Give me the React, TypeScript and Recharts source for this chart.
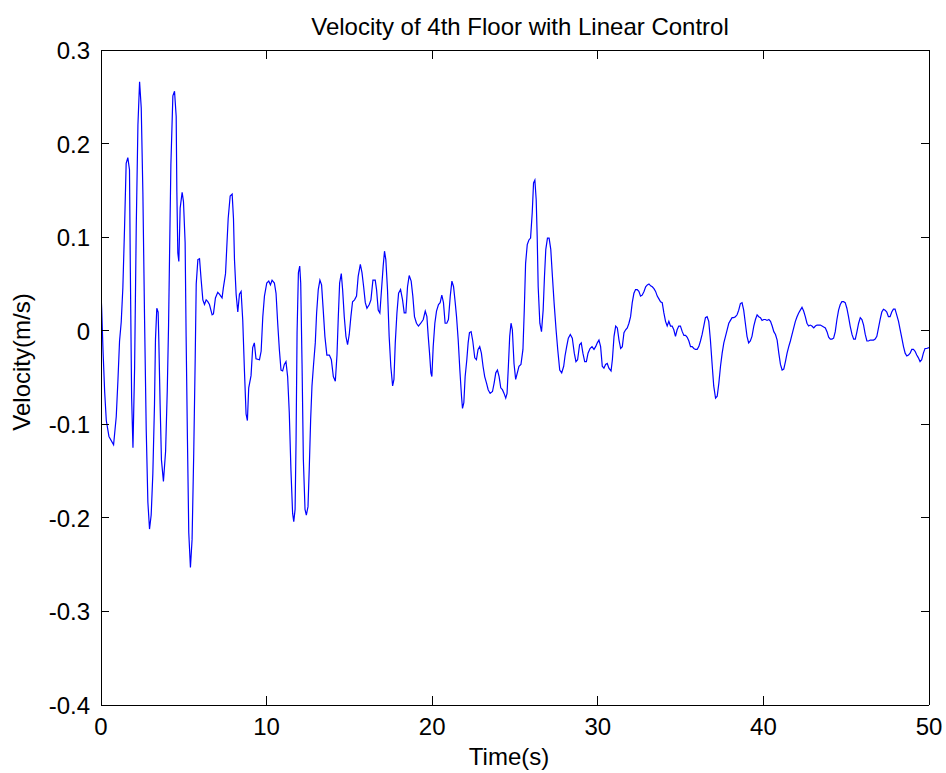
import { Line, LineChart, XAxis, YAxis } from "recharts";

// Velocity (m/s), one pair of arrays per 10 s stretch
const TIME_0_10 = [0, 0.04, 0.12, 0.22, 0.32, 0.48, 0.76, 0.92, 1.02, 1.12, 1.22, 1.32, 1.42, 1.52, 1.62, 1.72, 1.77, 1.85, 1.93, 2.03, 2.13, 2.23, 2.33, 2.43, 2.53, 2.63, 2.73, 2.83, 2.93, 3.03, 3.13, 3.23, 3.29, 3.37, 3.45, 3.49, 3.57, 3.65, 3.77, 3.9, 4.0, 4.08, 4.14, 4.22, 4.34, 4.44, 4.54, 4.58, 4.64, 4.7, 4.78, 4.9, 4.98, 5.08, 5.14, 5.22, 5.3, 5.4, 5.5, 5.6, 5.69, 5.75, 5.85, 5.95, 6.05, 6.15, 6.25, 6.35, 6.45, 6.55, 6.71, 6.79, 6.91, 7.05, 7.15, 7.31, 7.39, 7.52, 7.59, 7.68, 7.8, 7.92, 8.0, 8.06, 8.16, 8.26, 8.36, 8.46, 8.56, 8.66, 8.76, 8.84, 8.92, 9.06, 9.16, 9.26, 9.36];
const VEL_0_10 = [0.04, 0.024, -0.02, -0.065, -0.096, -0.113, -0.122, -0.092, -0.054, -0.011, 0.009, 0.046, 0.109, 0.179, 0.185, 0.172, 0.068, -0.072, -0.125, -0.039, 0.113, 0.22, 0.266, 0.238, 0.146, 0.013, -0.105, -0.183, -0.212, -0.197, -0.153, -0.079, -0.009, 0.024, 0.02, -0.009, -0.079, -0.138, -0.161, -0.129, -0.065, 0.006, 0.081, 0.177, 0.251, 0.256, 0.229, 0.149, 0.083, 0.074, 0.131, 0.148, 0.138, 0.094, -0.006, -0.116, -0.216, -0.253, -0.223, -0.131, -0.028, 0.05, 0.076, 0.077, 0.054, 0.033, 0.028, 0.033, 0.031, 0.028, 0.017, 0.018, 0.035, 0.041, 0.039, 0.035, 0.046, 0.061, 0.087, 0.12, 0.144, 0.146, 0.12, 0.076, 0.039, 0.02, 0.039, 0.042, 0.011, -0.042, -0.089, -0.096, -0.061, -0.048, -0.018, -0.013, -0.03];

const TIME_10_20 = [9.57, 9.67, 9.77, 9.87, 10.01, 10.13, 10.23, 10.33, 10.47, 10.57, 10.67, 10.77, 10.87, 10.97, 11.07, 11.17, 11.27, 11.37, 11.47, 11.57, 11.64, 11.72, 11.78, 11.84, 11.92, 12.0, 12.06, 12.14, 12.22, 12.32, 12.4, 12.5, 12.58, 12.66, 12.74, 12.84, 12.94, 13.02, 13.12, 13.22, 13.32, 13.42, 13.52, 13.64, 13.79, 13.91, 14.03, 14.15, 14.25, 14.33, 14.41, 14.51, 14.59, 14.69, 14.79, 14.89, 14.99, 15.09, 15.19, 15.31, 15.43, 15.53, 15.66, 15.76, 15.86, 15.96, 16.06, 16.2, 16.3, 16.42, 16.56, 16.64, 16.74, 16.84, 16.94, 17.04, 17.12, 17.2, 17.3, 17.4, 17.5, 17.61, 17.69, 17.77, 17.87, 17.97, 18.09, 18.21, 18.31, 18.41, 18.51, 18.61, 18.73, 18.83, 18.93, 19.05, 19.17, 19.31, 19.46, 19.58, 19.68, 19.76, 19.84];
const VEL_10_20 = [-0.031, -0.022, 0.015, 0.037, 0.051, 0.053, 0.049, 0.054, 0.051, 0.04, 0.008, -0.02, -0.042, -0.043, -0.036, -0.033, -0.049, -0.088, -0.149, -0.195, -0.204, -0.191, -0.116, -0.002, 0.062, 0.069, 0.051, -0.035, -0.138, -0.191, -0.197, -0.188, -0.145, -0.095, -0.059, -0.035, -0.013, 0.019, 0.044, 0.054, 0.049, 0.022, -0.006, -0.026, -0.026, -0.031, -0.049, -0.054, -0.026, 0.015, 0.051, 0.061, 0.044, 0.015, -0.006, -0.015, -0.004, 0.015, 0.031, 0.033, 0.037, 0.058, 0.071, 0.062, 0.047, 0.03, 0.024, 0.028, 0.033, 0.054, 0.054, 0.044, 0.022, 0.019, 0.044, 0.069, 0.085, 0.076, 0.044, -0.006, -0.038, -0.059, -0.052, -0.013, 0.019, 0.04, 0.044, 0.033, 0.019, 0.019, 0.047, 0.059, 0.053, 0.037, 0.015, 0.008, 0.005, 0.008, 0.012, 0.021, 0.015, -0.006, -0.024];

const TIME_20_30 = [19.92, 19.98, 20.06, 20.16, 20.26, 20.38, 20.48, 20.58, 20.68, 20.78, 20.88, 20.98, 21.09, 21.19, 21.29, 21.39, 21.47, 21.57, 21.67, 21.77, 21.83, 21.91, 21.99, 22.09, 22.17, 22.25, 22.35, 22.45, 22.57, 22.67, 22.77, 22.87, 22.97, 23.07, 23.17, 23.28, 23.38, 23.5, 23.64, 23.74, 23.84, 23.94, 24.04, 24.14, 24.24, 24.34, 24.44, 24.52, 24.6, 24.68, 24.76, 24.84, 24.94, 25.04, 25.14, 25.24, 25.36, 25.48, 25.56, 25.64, 25.74, 25.84, 25.94, 26.04, 26.12, 26.2, 26.28, 26.34, 26.4, 26.5, 26.6, 26.7, 26.78, 26.86, 26.96, 27.06, 27.16, 27.26, 27.36, 27.48, 27.58, 27.7, 27.82, 27.94, 28.02, 28.12, 28.22, 28.34, 28.46, 28.58, 28.68, 28.78, 28.9, 29.0, 29.1, 29.21, 29.31, 29.41, 29.53, 29.65, 29.77, 29.87, 29.97, 30.07];
const VEL_20_30 = [-0.045, -0.049, -0.017, 0.008, 0.021, 0.028, 0.03, 0.038, 0.03, 0.008, 0.008, 0.012, 0.037, 0.053, 0.047, 0.03, 0.015, -0.01, -0.042, -0.07, -0.083, -0.077, -0.049, -0.031, -0.013, -0.002, -0.001, -0.011, -0.029, -0.031, -0.02, -0.017, -0.024, -0.038, -0.049, -0.056, -0.063, -0.067, -0.065, -0.056, -0.045, -0.042, -0.049, -0.061, -0.063, -0.067, -0.072, -0.067, -0.038, -0.006, 0.008, 0.001, -0.035, -0.052, -0.045, -0.038, -0.036, -0.02, 0.022, 0.072, 0.092, 0.097, 0.099, 0.126, 0.158, 0.161, 0.14, 0.101, 0.047, 0.008, -0.001, 0.022, 0.058, 0.087, 0.099, 0.099, 0.087, 0.058, 0.03, 0.001, -0.02, -0.042, -0.045, -0.038, -0.027, -0.017, -0.008, -0.004, -0.008, -0.024, -0.033, -0.031, -0.015, -0.013, -0.024, -0.033, -0.033, -0.024, -0.019, -0.017, -0.02, -0.017, -0.013, -0.01];

const TIME_30_40 = [30.17, 30.27, 30.37, 30.47, 30.57, 30.67, 30.8, 30.88, 30.98, 31.08, 31.18, 31.28, 31.38, 31.48, 31.58, 31.68, 31.78, 31.88, 31.98, 32.08, 32.18, 32.28, 32.38, 32.48, 32.58, 32.68, 32.79, 32.89, 32.99, 33.09, 33.19, 33.29, 33.39, 33.49, 33.59, 33.69, 33.79, 33.89, 33.99, 34.09, 34.19, 34.29, 34.39, 34.49, 34.59, 34.69, 34.79, 34.89, 34.99, 35.1, 35.2, 35.3, 35.4, 35.5, 35.6, 35.7, 35.8, 35.9, 36.0, 36.1, 36.2, 36.3, 36.4, 36.5, 36.6, 36.7, 36.8, 36.9, 37.0, 37.11, 37.21, 37.31, 37.41, 37.51, 37.61, 37.71, 37.81, 37.91, 38.01, 38.11, 38.21, 38.31, 38.41, 38.51, 38.61, 38.71, 38.81, 38.91, 39.01, 39.11, 39.21, 39.31, 39.42, 39.52, 39.62, 39.72, 39.82, 39.92, 40.02, 40.12, 40.22];
const VEL_30_40 = [-0.017, -0.038, -0.04, -0.036, -0.035, -0.04, -0.043, -0.031, -0.006, 0.005, 0.003, -0.01, -0.019, -0.017, -0.002, 0.001, 0.003, 0.008, 0.015, 0.03, 0.04, 0.044, 0.044, 0.042, 0.037, 0.038, 0.042, 0.047, 0.049, 0.05, 0.048, 0.047, 0.045, 0.042, 0.037, 0.034, 0.031, 0.03, 0.019, 0.01, 0.005, 0.01, 0.005, 0.005, 0.001, -0.006, 0.001, 0.005, 0.005, -0.001, -0.005, -0.005, -0.007, -0.011, -0.017, -0.017, -0.019, -0.02, -0.02, -0.017, -0.011, -0.004, 0.005, 0.014, 0.015, 0.01, -0.01, -0.035, -0.059, -0.072, -0.07, -0.056, -0.038, -0.024, -0.013, -0.006, 0.001, 0.008, 0.011, 0.014, 0.014, 0.015, 0.017, 0.022, 0.029, 0.03, 0.022, 0.008, -0.006, -0.013, -0.011, -0.006, 0.005, 0.012, 0.017, 0.015, 0.014, 0.011, 0.012, 0.012, 0.011];

const TIME_40_50 = [40.33, 40.43, 40.53, 40.63, 40.73, 40.83, 40.93, 41.03, 41.13, 41.23, 41.33, 41.43, 41.53, 41.63, 41.73, 41.83, 41.93, 42.03, 42.13, 42.23, 42.33, 42.43, 42.53, 42.63, 42.73, 42.83, 42.93, 43.04, 43.14, 43.24, 43.34, 43.44, 43.54, 43.64, 43.74, 43.84, 43.94, 44.04, 44.14, 44.24, 44.34, 44.44, 44.54, 44.64, 44.74, 44.84, 44.94, 45.04, 45.14, 45.24, 45.35, 45.45, 45.55, 45.65, 45.75, 45.85, 45.95, 46.05, 46.15, 46.25, 46.35, 46.45, 46.55, 46.65, 46.75, 46.85, 46.95, 47.05, 47.15, 47.25, 47.35, 47.45, 47.55, 47.65, 47.75, 47.85, 47.95, 48.05, 48.16, 48.26, 48.36, 48.46, 48.56, 48.66, 48.76, 48.86, 48.96, 49.06, 49.16, 49.26, 49.36, 49.46, 49.56, 49.66, 49.76, 49.86, 50];
const VEL_40_50 = [0.012, 0.01, 0.005, -0.001, -0.004, -0.01, -0.024, -0.036, -0.042, -0.041, -0.033, -0.024, -0.017, -0.011, -0.004, 0.003, 0.01, 0.015, 0.019, 0.022, 0.025, 0.021, 0.015, 0.008, 0.005, 0.006, 0.005, 0.003, 0.005, 0.006, 0.006, 0.006, 0.005, 0.004, 0.003, -0.001, -0.007, -0.009, -0.009, -0.008, -0.001, 0.012, 0.022, 0.028, 0.031, 0.031, 0.03, 0.024, 0.015, 0.005, -0.004, -0.009, -0.009, -0.001, 0.008, 0.014, 0.012, 0.006, -0.004, -0.011, -0.011, -0.01, -0.01, -0.01, -0.009, -0.006, 0.003, 0.012, 0.02, 0.023, 0.022, 0.02, 0.015, 0.015, 0.02, 0.023, 0.023, 0.017, 0.01, 0.001, -0.008, -0.017, -0.024, -0.027, -0.026, -0.024, -0.02, -0.02, -0.022, -0.026, -0.029, -0.033, -0.031, -0.024, -0.019, -0.019, -0.018];

const X_TICKS = [0, 10, 20, 30, 40, 50];
const Y_TICKS = [-0.4, -0.3, -0.2, -0.1, 0, 0.1, 0.2, 0.3];

const TITLE = "Velocity of 4th Floor with Linear Control";
const X_LABEL = "Time(s)";
const Y_LABEL = "Velocity(m/s)";

const W = 946;
const H = 773;
const FONT = '"Liberation Sans", Arial, Helvetica, sans-serif';
const FS = 24;
const LINE_BLUE = "#0000ff";

const SEGMENTS: [number[], number[]][] = [
  [TIME_0_10, VEL_0_10],
  [TIME_10_20, VEL_10_20],
  [TIME_20_30, VEL_20_30],
  [TIME_30_40, VEL_30_40],
  [TIME_40_50, VEL_40_50],
];

const data = SEGMENTS.flatMap(([ts, vs]) =>
  ts.slice(0, vs.length).map((t, i) => ({ t, v: vs[i] }))
);

// Matlab-style ticks: marks point into the box, labels sit outside
function BottomTick({ x, y, payload }: any) {
  return (
    <g>
      <line x1={x} x2={x} y1={y} y2={y - 9} stroke="#000" shapeRendering="crispEdges" />
      <text x={x} y={y + 30} textAnchor="middle" fontSize={FS} fontFamily={FONT} fill="#000">
        {payload.value}
      </text>
    </g>
  );
}

function LeftTick({ x, y, payload }: any) {
  return (
    <g>
      <line x1={x} x2={x + 8} y1={y} y2={y} stroke="#000" shapeRendering="crispEdges" />
      <text x={x - 11} y={y + 9} textAnchor="end" fontSize={FS} fontFamily={FONT} fill="#000">
        {payload.value}
      </text>
    </g>
  );
}

function TopTick({ x, y }: any) {
  return <line x1={x} x2={x} y1={y} y2={y + 9} stroke="#000" shapeRendering="crispEdges" />;
}

function RightTick({ x, y }: any) {
  return <line x1={x} x2={x - 8} y1={y} y2={y} stroke="#000" shapeRendering="crispEdges" />;
}

const axisLine = { stroke: "#000", shapeRendering: "crispEdges" };

export default function App() {
  return (
    <div style={{ position: "absolute", left: 0, top: 0, width: W, height: H, background: "#fff" }}>
      <LineChart width={W} height={H} data={data} margin={{ top: 49, right: 16, bottom: 0, left: 0 }}>
        <XAxis
          xAxisId="bottom"
          type="number"
          dataKey="t"
          domain={[0, 50]}
          ticks={X_TICKS}
          height={68}
          tickSize={0}
          tickMargin={0}
          tickLine={false}
          axisLine={axisLine}
          tick={<BottomTick />}
          interval={0}
          allowDataOverflow
        />
        <XAxis
          xAxisId="top"
          orientation="top"
          type="number"
          dataKey="t"
          domain={[0, 50]}
          ticks={X_TICKS}
          height={1}
          tickSize={0}
          tickMargin={0}
          tickLine={false}
          axisLine={axisLine}
          tick={<TopTick />}
          interval={0}
          allowDataOverflow
        />
        <YAxis
          yAxisId="left"
          type="number"
          domain={[-0.4, 0.3]}
          ticks={Y_TICKS}
          width={101}
          tickSize={0}
          tickMargin={0}
          tickLine={false}
          axisLine={axisLine}
          tick={<LeftTick />}
          interval={0}
          allowDataOverflow
        />
        <YAxis
          yAxisId="right"
          orientation="right"
          type="number"
          domain={[-0.4, 0.3]}
          ticks={Y_TICKS}
          width={1}
          tickSize={0}
          tickMargin={0}
          tickLine={false}
          axisLine={axisLine}
          tick={<RightTick />}
          interval={0}
          allowDataOverflow
        />
        <Line
          xAxisId="bottom"
          yAxisId="left"
          type="linear"
          dataKey="v"
          stroke={LINE_BLUE}
          strokeWidth={1.2}
          dot={false}
          activeDot={false}
          isAnimationActive={false}
        />
        {/* invisible twin so the top/right frame axes are bound to data */}
        <Line
          xAxisId="top"
          yAxisId="right"
          type="linear"
          dataKey="v"
          stroke="none"
          dot={false}
          activeDot={false}
          isAnimationActive={false}
        />
      </LineChart>
      <svg
        width={W}
        height={H}
        style={{ position: "absolute", left: 0, top: 0, pointerEvents: "none" }}
        fontFamily={FONT}
        fontSize={FS}
        fill="#000"
      >
        <text x={520} y={35} textAnchor="middle">{TITLE}</text>
        <text x={509} y={765} textAnchor="middle">{X_LABEL}</text>
        <text x={30} y={362} textAnchor="middle" transform="rotate(-90 30 362)">{Y_LABEL}</text>
      </svg>
    </div>
  );
}
